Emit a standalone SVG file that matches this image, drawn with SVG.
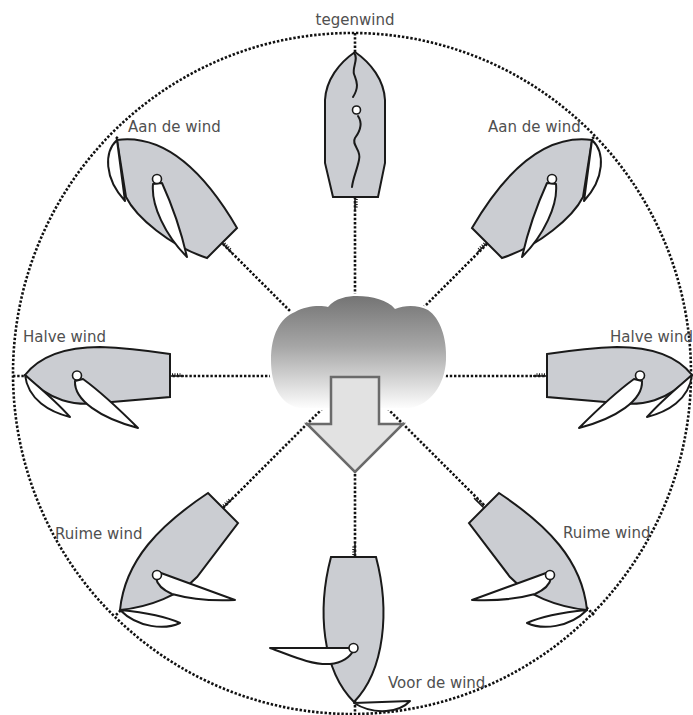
<svg xmlns="http://www.w3.org/2000/svg" width="693" height="715" viewBox="0 0 693 715">
  <defs>
    <linearGradient id="cloudGrad" x1="0" y1="0" x2="0" y2="1">
      <stop offset="0" stop-color="#747474"/>
      <stop offset="0.45" stop-color="#a6a6a6"/>
      <stop offset="1" stop-color="#fdfdfd"/>
    </linearGradient>
    <style>
      .hull{fill:#cbcdd2;stroke:#1a1a1a;stroke-width:2;stroke-linejoin:miter}
      .sail{fill:#fff;stroke:#1a1a1a;stroke-width:2;stroke-linejoin:round}
      .luff{fill:none;stroke:#1a1a1a;stroke-width:2;stroke-linecap:round}
      .mast{fill:#fff;stroke:#1a1a1a;stroke-width:1.6}
      .dots{fill:none;stroke:#111;stroke-width:2.6;stroke-dasharray:2.4 1.8}
      .tiller{stroke:#1a1a1a;stroke-width:1.6}
      .ticks{stroke:#1a1a1a;stroke-width:2.5;stroke-dasharray:1 1.5}
      .label{font-family:"DejaVu Sans","Liberation Sans",sans-serif;font-size:15px;fill:#505050}
    </style>
    <!-- tiller pointing along +y from the stern -->
    <g id="tiller">
      <line class="tiller" x1="0" y1="0" x2="0" y2="14"/>
      <line class="ticks" x1="1.5" y1="2" x2="1.5" y2="12"/>
    </g>
  </defs>

  <!-- dotted compass circle and course lines -->
  <g id="connectors">
    <ellipse class="dots" cx="352" cy="373.5" rx="339" ry="340.5"/>
    <line class="dots" x1="355" y1="33" x2="355" y2="714"/>
    <line class="dots" x1="13" y1="376" x2="691" y2="376"/>
    <line class="dots" x1="116" y1="137" x2="355" y2="376"/>
    <line class="dots" x1="594" y1="137" x2="355" y2="376"/>
    <line class="dots" x1="116" y1="615" x2="355" y2="376"/>
    <line class="dots" x1="594" y1="615" x2="355" y2="376"/>
  </g>

  <!-- head to wind -->
  <g id="tegenwind">
    <path class="hull" d="M355,52 C339,63 326,80 325,100 L325,163 L333,197 L378,197 L385,163 L385,100 C384,80 371,63 355,52 Z"/>
    <path class="luff" d="M354,53 C359,58 352,68 354,74 C356,80 360,86 353,97"/>
    <path class="luff" d="M358,116 C362,122 361,130 355,138 C351,145 362,150 359,160 C357,170 353,178 352,187"/>
    <circle class="mast" cx="356.5" cy="110" r="4"/>
    <use href="#tiller" transform="translate(355,197)"/>
    <text class="label" x="355" y="25" text-anchor="middle">tegenwind</text>
  </g>

  <!-- close hauled, port side -->
  <g id="aan-de-wind-links">
    <g id="closehauled">
      <path class="hull" d="M117,140 C162,134 202,168 237,228 L207,258 C170,246 136,217 126,197 Z"/>
      <path class="sail" d="M117,140 C104,152 104,178 125,201 Z"/>
      <path class="sail" d="M153,184 C151,205 165,235 187,257 C182,235 172,205 162,183 Z"/>
      <circle class="mast" cx="157" cy="179" r="4.5"/>
      <use href="#tiller" transform="translate(222,243) rotate(-45)"/>
    </g>
    <text class="label" x="128" y="132">Aan de wind</text>
  </g>

  <!-- close hauled, starboard side -->
  <g id="aan-de-wind-rechts">
    <use href="#closehauled" transform="matrix(-1 0 0 1 709 0)"/>
    <text class="label" x="488" y="132">Aan de wind</text>
  </g>

  <!-- beam reach, port side -->
  <g id="halve-wind-links">
    <g id="beamreach">
      <path class="hull" d="M25,375 C40,356 65,347 100,347 C130,348 150,351 170,354 L170,397 L100,403 C75,406 50,402 25,375 Z"/>
      <path class="sail" d="M25,375 C28,400 50,412 70,417 C55,400 40,388 25,375 Z"/>
      <path class="sail" d="M75,381 C74,400 100,418 138,428 C125,415 105,395 83,379 Z"/>
      <circle class="mast" cx="77" cy="375.5" r="4.5"/>
      <use href="#tiller" transform="translate(170,376) rotate(-90)"/>
    </g>
    <text class="label" x="23" y="342">Halve wind</text>
  </g>

  <!-- beam reach, starboard side -->
  <g id="halve-wind-rechts">
    <use href="#beamreach" transform="matrix(-1 0 0 1 717 0)"/>
    <text class="label" x="610" y="342">Halve wind</text>
  </g>

  <!-- broad reach, port side -->
  <g id="ruime-wind-links">
    <g id="broadreach">
      <path class="hull" d="M208,493 C160,525 125,560 120,610 C150,607 180,595 197,577 L238,523 Z"/>
      <path class="sail" d="M120,610 C140,612 165,616 180,623 C165,630 138,628 120,610 Z"/>
      <path class="sail" d="M161,573 L235,600 C215,601 190,599 172,594 C163,590 157,584 156,578 Z"/>
      <circle class="mast" cx="157" cy="575" r="4.5"/>
      <use href="#tiller" transform="translate(223,508) rotate(-135)"/>
    </g>
    <text class="label" x="55" y="539">Ruime wind</text>
  </g>

  <!-- broad reach, starboard side -->
  <g id="ruime-wind-rechts">
    <use href="#broadreach" transform="matrix(-1 0 0 1 707 0)"/>
    <text class="label" x="563" y="538">Ruime wind</text>
  </g>

  <!-- running -->
  <g id="voor-de-wind">
    <path class="hull" d="M331,557 L376,557 C390,610 385,670 354,702 C322,670 317,610 331,557 Z"/>
    <path class="sail" d="M354,703 L410,701 C400,712 375,716 354,703 Z"/>
    <path class="sail" d="M352,648 L270,648 C290,655 310,665 330,664 C342,663 350,657 353,651 Z"/>
    <circle class="mast" cx="353.5" cy="648" r="4.5"/>
    <use href="#tiller" transform="translate(355,557) rotate(180)"/>
    <text class="label" x="388" y="688">Voor de wind</text>
  </g>

  <!-- wind source with direction arrow -->
  <g id="wind">
    <path d="M300,408 C280,405 271,385 271,360 C271,335 280,318 295,312 C305,306 320,305 328,307 C335,298 348,296 357,296 C372,296 388,300 395,309 C405,305 418,305 428,310 C440,318 447,338 446,360 C445,385 430,405 410,408 Z" fill="url(#cloudGrad)" stroke="#fff" stroke-width="5" paint-order="stroke"/>
    <polygon points="331,377 379,377 379,424 403,424 355,472 307,424 331,424" fill="#e2e2e2" stroke="#6a6a6a" stroke-width="2.5" stroke-linejoin="miter"/>
  </g>
</svg>
